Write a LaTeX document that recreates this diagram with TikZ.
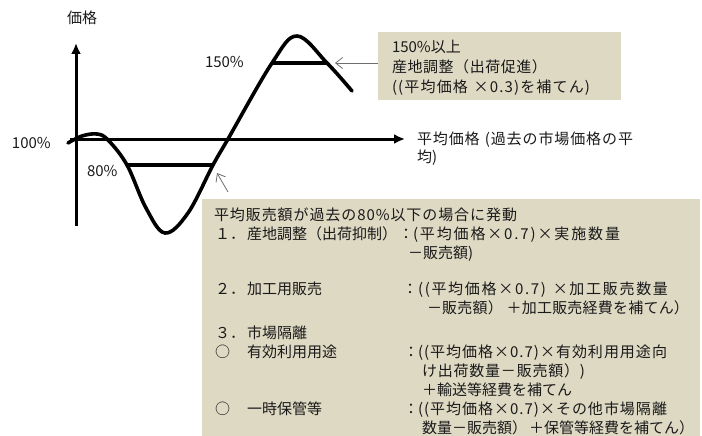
\documentclass[tikz,border=0pt]{standalone}
\usepackage{fontspec}
\setmainfont{Noto Sans CJK JP}
\usetikzlibrary{arrows.meta}
\definecolor{boxfill}{HTML}{DDD9C3}
\definecolor{txtc}{HTML}{1A1A1A}
\definecolor{ptr}{HTML}{6E6E6E}
\ExplSyntaxOn
\NewDocumentCommand\jfit{mm}
  {
    \hbox_to_wd:nn {#1pt}
      { \tl_map_inline:nn {#2} { ##1 \skip_horizontal:n {0pt~plus~1fil} } \unskip }
  }
\ExplSyntaxOff
\begin{document}
\begin{tikzpicture}[x=1pt,y=-1pt,
  txt/.style={anchor=base west,inner sep=0pt,outer sep=0pt,font=\fontsize{15}{18}\selectfont,text=txtc},
  colon/.style={anchor=base,inner sep=0pt,outer sep=0pt,font=\fontsize{15}{18}\selectfont,text=txtc},
  infobox/.style={fill=boxfill,draw=none,inner sep=0pt,outer sep=0pt,anchor=north west},
  axisline/.style={line width=3pt,-{Latex[length=11pt,width=10pt]}},
  levelline/.style={line width=4pt},
  wave/.style={line width=3.6pt,line join=round,line cap=round},
  pointer/.style={draw=ptr,line width=0.8pt,-{Straight Barb[length=7pt,width=11pt]}}]
\useasboundingbox (0,0) rectangle (702,436);

% boxes
\node[infobox,minimum width=243pt,minimum height=68pt] (box1) at (378,32) {};
\node[infobox,minimum width=498pt,minimum height=237pt] (box2) at (202,199) {};

% axes
\coordinate (yb) at (76,226);
\coordinate (yt) at (76,43);
\coordinate (xl) at (70,139);
\coordinate (xr) at (405,139);
\draw[axisline] (yb) -- (yt);
\draw[axisline] (xl) -- (xr);

% price curve
\draw[wave] plot[smooth,tension=0.6] coordinates {(68,143) (82,136) (97,134) (108,140) (127,165) (146,208) (165,233) (188,213) (213,165) (228,139) (272,63) (297,36) (327,63) (352,91)};

% level lines
\coordinate (l80a) at (127,165);
\coordinate (l80b) at (213,165);
\coordinate (l150a) at (272,63);
\coordinate (l150b) at (327,63);
\draw[levelline] (l80a) -- (l80b);
\draw[levelline] (l150a) -- (l150b);

% pointers
\coordinate (p150) at (335,63);
\draw[pointer] (box1.west |- p150) -- (p150);
\coordinate (p80tail) at (228,192);
\coordinate (p80) at (217,173);
\draw[pointer] (p80tail) -- (p80);

% axis labels
\node[txt] (ylab) at (67,23.7) {価格};
\node[txt] (l100) at (12,148.5) {100\%};
\node[txt] (l80) at (87,176.5) {80\%};
\node[txt] (l150) at (205,67.5) {150\%};
\node[txt] (xlab1) at (417,144.7) {\jfit{216}{平均価格\ (過去の市場価格の平}};
\node[txt] (xlab2) at (417,162.7) {均)};

% box 1 text
\node[txt] (b1a) at (392,52.7) {150\%以上};
\node[txt] (b1b) at (392,72.7) {\jfit{155}{産地調整（出荷促進）}};
\node[txt] (b1c) at (392,92.7) {\jfit{198}{((平均価格\ ×0.3)を補てん)}};

% box 2 text
\node[txt] (c1) at (214,220.4) {\jfit{303}{平均販売額が過去の80\%以下の場合に発動}};
\node[txt] (c2n) at (215,239.7) {１．};
\node[txt] (c2a) at (247,239.7) {産地調整（出荷抑制）};
\node[colon] (c2c) at (406,239.7) {：};
\node[txt] (c2b) at (413,239.7) {\jfit{207}{(平均価格×0.7)×実施数量}};
\node[txt] (c3) at (408,258.7) {－販売額)};

\node[txt] (c4n) at (215,294.4) {２．};
\node[txt] (c4a) at (247,294.4) {加工用販売};
\node[colon] (c4c) at (410,294.4) {：};
\node[txt] (c4b) at (418,294.4) {\jfit{250}{((平均価格×0.7)\ ×加工販売数量}};
\node[txt] (c5) at (427,313.7) {\jfit{262}{－販売額）\ ＋加工販売経費を補てん）}};

\node[txt] (c6n) at (215,338.7) {３．};
\node[txt] (c6a) at (247,338.7) {市場隔離};
\node[txt] (c7n) at (215,357.7) {○};
\node[txt] (c7a) at (247,357.7) {有効利用用途};
\node[colon] (c7c) at (411,357.7) {：};
\node[txt] (c7b) at (418,357.7) {\jfit{249}{((平均価格×0.7)×有効利用用途向}};
\node[txt] (c8) at (422,376.7) {\jfit{163}{け出荷数量－販売額）)}};
\node[txt] (c9) at (422,395.7) {＋輸送等経費を補てん};
\node[txt] (c10n) at (215,414.7) {○};
\node[txt] (c10a) at (247,414.7) {一時保管等};
\node[colon] (c10c) at (411,414.7) {：};
\node[txt] (c10b) at (418,414.7) {\jfit{249}{((平均価格×0.7)×その他市場隔離}};
\node[txt] (c11) at (422,433.7) {\jfit{267}{数量－販売額）\ ＋保管等経費を補てん）}};
\end{tikzpicture}
\end{document}
